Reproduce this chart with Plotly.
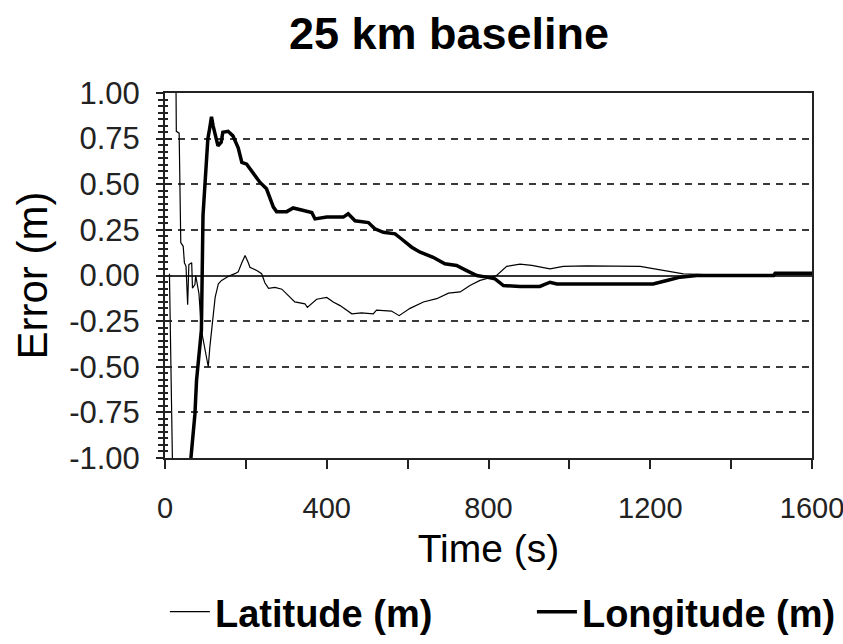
import plotly.graph_objects as go

# ---- data ----
lat_time = [11, 19, 23, 27, 28, 35, 37, 39, 45, 48, 52, 56, 59, 66, 68, 74, 76, 79, 84, 90,
            100, 107, 111, 115, 120, 124, 132, 140, 153, 161, 173, 181, 190, 198, 206, 210,
            227, 239, 247, 256, 272, 289, 321, 346, 352, 375, 400, 416, 433, 462, 486, 515,
            523, 560, 579, 606, 639, 672, 701, 730, 754, 779, 795, 820, 845, 878, 907, 952,
            985, 1042, 1175, 1224, 1253, 1282, 1350, 1600]
lat_err = [0.01, -1.10, None, 1.10, 0.79, 0.78, 0.37, 0.18, 0.16, 0.07, 0.05, -0.16, 0.06,
           0.07, -0.07, -0.05, 0.00, -0.04, -0.10, -0.30, -0.42, -0.50, -0.39, -0.30, -0.19,
           -0.12, -0.045, -0.027, -0.01, 0.0, 0.01, 0.02, 0.07, 0.11, 0.07, 0.045, 0.027,
           0.01, -0.04, -0.07, -0.065, -0.075, -0.145, -0.155, -0.175, -0.13, -0.12, -0.145,
           -0.165, -0.21, -0.205, -0.21, -0.19, -0.195, -0.22, -0.18, -0.145, -0.127, -0.097,
           -0.09, -0.055, -0.027, -0.018, 0.0, 0.05, 0.062, 0.055, 0.036, 0.05, 0.053, 0.05,
           0.03, 0.018, 0.009, 0.004, 0.005]

lon_time = [60, 64, 70, 74, 78, 82, 86, 90, 94, 98, 102, 106, 110, 115, 119, 123, 131, 139,
            143, 156, 168, 181, 190, 202, 214, 235, 251, 268, 276, 301, 317, 342, 363, 371,
            400, 420, 441, 453, 470, 503, 519, 540, 569, 585, 610, 631, 663, 692, 721, 746,
            771, 795, 816, 837, 878, 927, 952, 969, 1207, 1241, 1274, 1315, 1505, 1509, 1600]
lon_err = [-1.10, -1.0, -0.83, -0.76, -0.575, -0.47, -0.36, -0.30, 0.33, 0.49, 0.59, 0.75,
           0.80, 0.87, 0.82, 0.785, 0.71, 0.73, 0.785, 0.79, 0.765, 0.70, 0.62, 0.61, 0.575,
           0.51, 0.475, 0.375, 0.35, 0.35, 0.37, 0.355, 0.345, 0.31, 0.32, 0.32, 0.32, 0.338,
           0.30, 0.29, 0.256, 0.237, 0.228, 0.20, 0.155, 0.128, 0.10, 0.064, 0.055, 0.027,
           0.0, -0.009, -0.018, -0.055, -0.06, -0.06, -0.037, -0.046, -0.046, -0.027,
           -0.009, 0.0, 0.0, 0.013, 0.013]

x_ticks = [0, 400, 800, 1200, 1600]
y_ticks = [-1.0, -0.75, -0.5, -0.25, 0.0, 0.25, 0.5, 0.75, 1.0]

FONT = "Liberation Sans, Arial, sans-serif"

fig = go.Figure()
fig.add_trace(go.Scatter(x=lat_time, y=lat_err, mode="lines", name="Latitude (m)",
                         line=dict(color="black", width=1.2), yaxis="y2"))
fig.add_trace(go.Scatter(x=lon_time, y=lon_err, mode="lines", name="Longitude (m)",
                         line=dict(color="black", width=3.5)))

fig.update_layout(
    width=843, height=644,
    paper_bgcolor="white", plot_bgcolor="white",
    margin=dict(l=165, r=31, t=93, b=186, autoexpand=False),
    font=dict(family=FONT, color="black"),
    title=dict(text="25 km baseline", x=449/843, xanchor="center", xref="container",
               y=1-33/644, yanchor="middle", yref="container",
               font=dict(size=45, weight="bold", family=FONT)),
    showlegend=True,
    legend=dict(orientation="h", xref="paper", yref="paper",
                x=-0.0001, xanchor="left", y=-154/365, yanchor="middle",
                font=dict(size=38, weight="bold", family=FONT),
                itemwidth=40, entrywidth=312, entrywidthmode="pixels",
                tracegroupgap=0, bgcolor="rgba(0,0,0,0)"),
    xaxis=dict(range=[0, 1600], tickvals=x_ticks, ticktext=[str(v) for v in x_ticks],
               ticks="outside", ticklen=9, tickwidth=1.5, tickcolor="#222",
               ticklabelstandoff=14, ticklabeloverflow="allow",
               minor=dict(dtick=200, tick0=0, ticks="outside", ticklen=9, tickwidth=1.5,
                          tickcolor="#222", showgrid=False),
               showline=True, linecolor="#222", linewidth=2, mirror=True,
               showgrid=False, zeroline=False, automargin=False,
               tickfont=dict(size=29, family=FONT, color="#222"),
               title=dict(text="Time (s)", font=dict(size=39, family=FONT), standoff=12)),
    yaxis=dict(range=[-1, 1], tickvals=y_ticks, ticktext=[f"{v:.2f}" for v in y_ticks],
               ticks="outside", ticklen=7, tickwidth=1.5, tickcolor="#222",
               ticklabelstandoff=10,
               minor=dict(dtick=0.25/7, tick0=0, ticks="outside", ticklen=5, tickwidth=1.5,
                          tickcolor="#222", showgrid=False),
               showline=True, linecolor="#222", linewidth=2, mirror=True,
               showgrid=True, gridcolor="#3a3a3a", gridwidth=2, griddash="7px,6px",
               zeroline=True, zerolinecolor="#333", zerolinewidth=1.5, automargin=False,
               tickfont=dict(size=31, family=FONT, color="#222"),
               title=dict(text="Error (m)", font=dict(size=42, family=FONT), standoff=8)),
    yaxis2=dict(range=[-1, 1], overlaying="y", side="left", tickvals=y_ticks,
                showticklabels=False, ticks="inside", ticklen=7, tickwidth=1.5,
                tickcolor="#222",
                minor=dict(dtick=0.25/7, tick0=0, ticks="inside", ticklen=3, tickwidth=1.5,
                           tickcolor="#222", showgrid=False),
                showgrid=False, zeroline=False, showline=False, automargin=False),
)

fig.write_html("out.html", config={"displayModeBar": False},
               post_script="document.body.style.margin='0';")
